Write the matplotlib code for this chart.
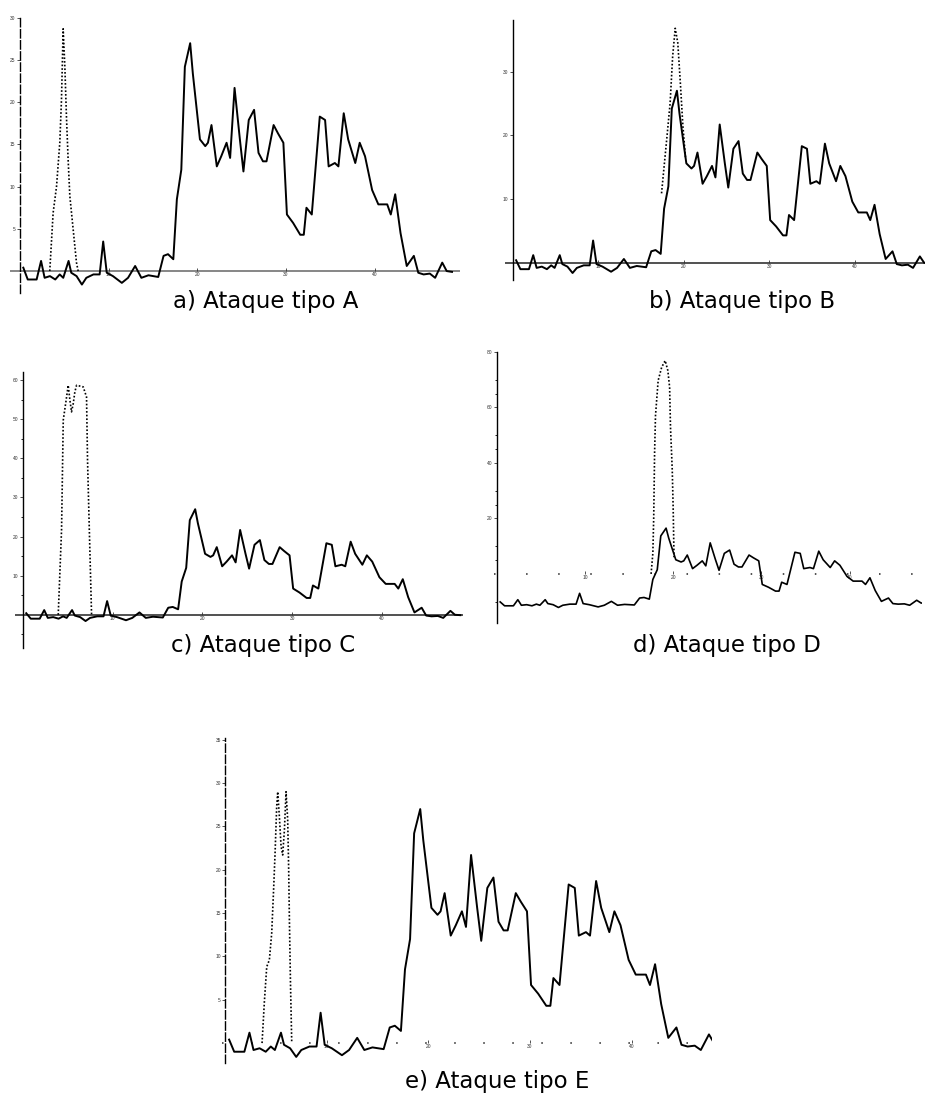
import matplotlib
matplotlib.use("Agg")
import matplotlib.pyplot as plt

plt.rcParams['font.family'] = ['Liberation Sans', 'DejaVu Sans']

W, H = 926, 1095

# señal común (curva continua)
sig_x = [0.4, 0.9, 1.9, 2.4, 2.8, 3.4, 4.0, 4.5, 4.9, 5.5, 5.8, 6.4, 7.0, 7.5, 8.3, 9.0,
         9.4, 9.8, 10.5, 11.5, 12.2, 13.0, 13.7, 14.5, 15.6, 16.2, 16.7, 17.3, 17.7, 18.2,
         18.6, 19.2, 19.5, 20.3, 20.9, 21.2, 21.6, 22.2, 22.7, 23.3, 23.7, 24.2, 24.8, 25.2,
         25.8, 26.4, 26.9, 27.4, 27.8, 28.6, 29.1, 29.7, 30.1, 30.8, 31.6, 32.0, 32.3, 32.9,
         33.8, 34.4, 34.8, 35.5, 35.9, 36.5, 37.0, 37.8, 38.3, 38.9, 39.7, 40.4, 41.4, 41.8,
         42.3, 42.9, 43.6, 44.4, 44.9, 45.5, 46.2, 46.8, 47.6, 48.1, 48.7]
sig_y = [0.4, -1.0, -1.0, 1.2, -0.8, -0.6, -1.0, -0.4, -0.8, 1.2, -0.2, -0.6, -1.6, -0.8,
         -0.4, -0.4, 3.5, -0.2, -0.6, -1.4, -0.8, 0.6, -0.8, -0.5, -0.7, 1.8, 2.0, 1.4, 8.5,
         12.0, 24.2, 27.0, 23.4, 15.6, 14.8, 15.2, 17.3, 12.4, 13.6, 15.2, 13.4, 21.7, 15.6,
         11.8, 17.9, 19.1, 14.0, 13.0, 13.0, 17.3, 16.3, 15.2, 6.7, 5.7, 4.3, 4.3, 7.5, 6.7,
         18.3, 17.9, 12.4, 12.8, 12.4, 18.7, 15.6, 12.8, 15.2, 13.6, 9.6, 7.9, 7.9, 6.7, 9.1,
         4.5, 0.6, 1.8, -0.2, -0.4, -0.3, -0.8, 1.0, 0.0, -0.1]

# curvas punteadas (ataque) de cada panel
atk_a_x = [3.38, 3.76, 4.14, 4.51, 4.70, 4.89, 5.08, 5.26, 5.45, 5.64, 6.02, 6.39, 6.58]
atk_a_y = [0, 6.9, 10.0, 15.2, 20.3, 28.7, 24.2, 18.3, 13.2, 8.9, 4.9, 1.0, 0]

atk_b_x = [17.4, 18.0, 18.4, 18.7, 19.0, 19.3, 19.6, 19.9, 20.2]
atk_b_y = [10.9, 19.3, 25.0, 32.4, 36.8, 34.5, 28.2, 21.4, 16.5]

atk_c_x = [3.96, 4.33, 4.52, 4.89, 5.07, 5.26, 5.44, 5.63, 5.81, 6.00, 6.74, 7.11, 7.22, 7.41, 7.67]
atk_c_y = [0, 21.7, 49.8, 55.7, 58.7, 54.9, 51.9, 54.0, 57.0, 58.7, 58.3, 55.7, 39.6, 22.6, 0]

atk_d_x = [17.5, 17.7, 17.8, 17.9, 18.0, 18.3, 18.7, 19.1, 19.4, 19.6, 19.7, 19.9, 20.0, 20.1]
atk_d_y = [0, 7.4, 20.6, 44.0, 57.0, 69.7, 74.5, 76.9, 73.3, 67.3, 52.9, 37.4, 24.2, 6.0]

atk_e_x = [3.64, 3.87, 4.10, 4.36, 4.59, 4.79, 4.92, 5.08, 5.18, 5.34, 5.51, 5.67, 5.84,
           6.00, 6.16, 6.26, 6.33, 6.43, 6.56]
atk_e_y = [0, 4.8, 8.8, 9.6, 12.7, 18.1, 21.9, 27.3, 29.0, 26.2, 22.7, 21.7, 24.6, 29.0,
           25.8, 20.0, 14.2, 7.3, 0]

offset_d = -10.5   # en d) la señal queda por debajo del eje

titles = ['a) Ataque tipo A', 'b) Ataque tipo B', 'c) Ataque tipo C',
          'd) Ataque tipo D', 'e) Ataque tipo E']


def make_ax(fig, px_l, px_r, px_t, px_b):
    return fig.add_axes([px_l / W, 1 - px_b / H, (px_r - px_l) / W, (px_b - px_t) / H])


def style(ax, xlim, ylim, yticks, yminor, zero_ls, zero_col, spine_ls):
    ax.set_xlim(*xlim)
    ax.set_ylim(*ylim)
    for s in ['top', 'right', 'bottom']:
        ax.spines[s].set_visible(False)
    ax.spines['left'].set_position(('data', 0))
    ax.spines['left'].set_linewidth(1.0)
    ax.spines['left'].set_linestyle(spine_ls)
    ax.axhline(0, color=zero_col, lw=1.1, ls=zero_ls, zorder=1)
    ax.set_xticks([10, 20, 30, 40])
    ax.set_yticks(yticks)
    ax.set_yticks(yminor, minor=True)
    ax.tick_params(axis='both', which='major', labelsize=3.5, length=2, width=0.6,
                   pad=1, colors='#333333')
    ax.tick_params(axis='y', which='minor', length=1.5, width=0.6)
    ax.tick_params(axis='x', direction='in')
    ax.xaxis.set_ticks_position('bottom')
    ax.spines['bottom'].set_position(('data', 0))
    ax.patch.set_alpha(0)


def title(fig, x, y, txt):
    fig.text(x / W, 1 - y / H, txt, ha='center', va='baseline', fontsize=16.5,
             family='DejaVu Sans')


fig = plt.figure(figsize=(W / 100, H / 100), dpi=100)

sol = dict(color='black', lw=1.4, zorder=3)
dot = dict(color='black', lw=1.2, ls=(0, (1, 1.2)), zorder=2)

# a)
ax = make_ax(fig, 10, 460, 17, 293)
style(ax, (-1.1, 49.6), (-2.6, 30.1), [5, 10, 15, 20, 25, 30], [], '-', '#666666', (0, (6, 2)))
ax.plot(sig_x, sig_y, **sol)
ax.plot(atk_a_x, atk_a_y, **dot)
title(fig, 266, 308, titles[0])

# b)
ax = make_ax(fig, 505, 925, 20, 280)
style(ax, (-0.9, 48.2), (-2.7, 38.1), [10, 20, 30], [], '-', '#222222', '-')
ax.plot(sig_x, sig_y, **sol)
ax.plot(atk_b_x, atk_b_y, **dot)
title(fig, 742, 308, titles[1])

# c)
ax = make_ax(fig, 15, 463, 372, 648)
style(ax, (-0.85, 49.0), (-8.5, 62.1), [10, 20, 30, 40, 50, 60], [-5, 5, 15, 25, 35, 45, 55],
      '-', '#222222', '-')
ax.plot(sig_x, sig_y, **sol)
ax.plot(atk_c_x, atk_c_y, **dot)
title(fig, 263, 652, titles[2])

# d)
ax = make_ax(fig, 494, 922, 352, 623)
style(ax, (-0.3, 48.2), (-17.7, 80), [20, 40, 60, 80], [-10, 5, 10, 25, 30, 45, 50, 65, 70],
      (0, (1, 20)), '#222222', '-')
ax.plot(sig_x, [v + offset_d for v in sig_y], color='black', lw=1.2, zorder=3)
ax.plot(atk_d_x, atk_d_y, **dot)
title(fig, 727, 652, titles[3])

# e)
ax = make_ax(fig, 222, 712, 738, 1063)
style(ax, (-0.3, 47.9), (-2.3, 35.2), [5, 10, 15, 20, 25, 30, 35], [], (0, (1, 18)),
      '#222222', (0, (6, 2)))
ax.plot(sig_x, sig_y, **sol)
ax.plot(atk_e_x, atk_e_y, **dot)
title(fig, 497, 1088, titles[4])

fig.savefig('out.png', dpi=100, facecolor='white')
